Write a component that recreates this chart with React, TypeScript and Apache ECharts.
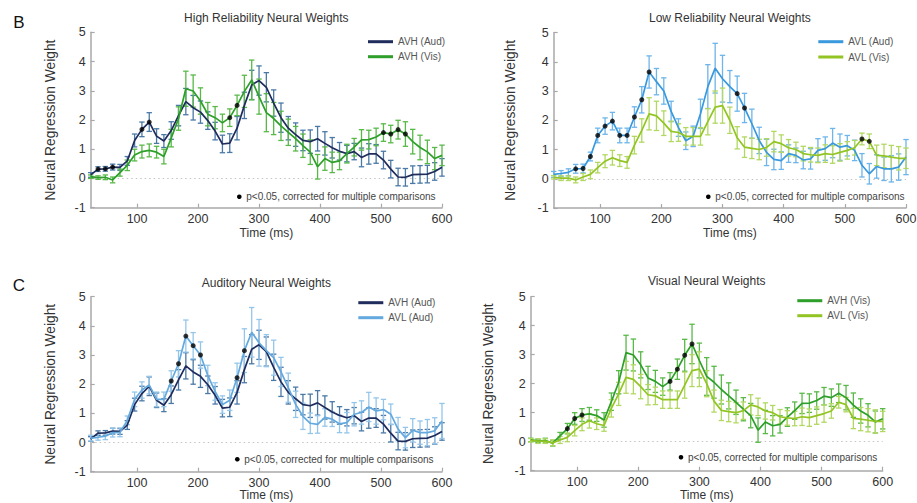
import React, { useEffect, useRef } from "react";
import * as echarts from "echarts";

// ---- data ----
const times = [24, 36, 48, 60, 72, 84, 96, 108, 120, 132, 144, 156, 168, 180, 192, 204, 216, 228, 240, 252, 264, 276, 288, 300, 312, 324, 336, 348, 360, 372, 384, 396, 408, 420, 432, 444, 456, 468, 480, 492, 504, 516, 528, 540, 552, 564, 576, 588, 600];

const xTicks = [100, 200, 300, 400, 500, 600];
const yTicks = [-1, 0, 1, 2, 3, 4, 5];

const avhAudMean = [0.12, 0.32, 0.33, 0.39, 0.38, 0.6, 1.3, 1.68, 1.93, 1.45, 1.28, 1.64, 2.15, 2.63, 2.42, 2.27, 1.98, 1.62, 1.18, 1.21, 1.72, 2.5, 3.2, 3.35, 3.12, 2.58, 2.08, 1.72, 1.5, 1.3, 1.26, 1.36, 1.2, 1.05, 0.93, 0.85, 0.92, 0.72, 0.84, 0.84, 0.63, 0.32, 0.05, 0.04, 0.13, 0.14, 0.15, 0.24, 0.38];
const avhAudErr = [0.08, 0.08, 0.08, 0.1, 0.1, 0.15, 0.22, 0.25, 0.32, 0.25, 0.22, 0.3, 0.35, 0.45, 0.42, 0.38, 0.3, 0.3, 0.3, 0.32, 0.4, 0.45, 0.5, 0.5, 0.5, 0.45, 0.5, 0.4, 0.4, 0.35, 0.4, 0.42, 0.4, 0.35, 0.3, 0.28, 0.28, 0.32, 0.35, 0.32, 0.3, 0.3, 0.3, 0.3, 0.3, 0.3, 0.3, 0.3, 0.3];

const avhVisMean = [0.06, 0.03, 0.04, -0.05, 0.2, 0.45, 0.8, 0.92, 0.96, 0.9, 0.75, 1.38, 2.05, 3.07, 2.99, 2.65, 2.2, 2.08, 1.9, 2.08, 2.5, 2.98, 3.37, 2.8, 2.25, 2.05, 1.8, 1.58, 1.36, 1.12, 0.9, 0.4, 0.68, 0.55, 0.6, 0.85, 1.07, 1.32, 1.33, 1.42, 1.57, 1.52, 1.67, 1.52, 1.26, 1.06, 0.91, 0.68, 0.79];
const avhVisErr = [0.06, 0.06, 0.08, 0.1, 0.12, 0.18, 0.2, 0.22, 0.22, 0.2, 0.25, 0.3, 0.4, 0.6, 0.55, 0.45, 0.4, 0.38, 0.3, 0.3, 0.35, 0.55, 0.68, 0.6, 0.65, 0.55, 0.5, 0.45, 0.42, 0.4, 0.42, 0.42, 0.4, 0.35, 0.3, 0.32, 0.3, 0.35, 0.32, 0.3, 0.3, 0.3, 0.32, 0.42, 0.42, 0.42, 0.4, 0.38, 0.35];

const avlAudMean = [0.15, 0.18, 0.22, 0.34, 0.35, 0.76, 1.48, 1.8, 1.97, 1.48, 1.48, 2.11, 2.7, 3.65, 3.32, 3.0, 2.3, 1.75, 1.3, 1.45, 2.22, 3.15, 3.78, 3.42, 3.15, 2.91, 2.42, 1.88, 1.31, 0.9, 0.66, 0.62, 0.86, 0.8, 0.64, 0.68, 0.97, 1.03, 1.22, 1.08, 1.13, 0.97, 0.46, 0.17, 0.42, 0.34, 0.34, 0.4, 0.74];
const avlAudErr = [0.1, 0.1, 0.12, 0.15, 0.15, 0.15, 0.25, 0.28, 0.3, 0.25, 0.25, 0.35, 0.45, 0.55, 0.45, 0.45, 0.35, 0.3, 0.3, 0.35, 0.5, 0.75, 0.85, 0.8, 0.55, 0.6, 0.5, 0.5, 0.45, 0.45, 0.35, 0.3, 0.3, 0.25, 0.3, 0.35, 0.4, 0.4, 0.5, 0.45, 0.35, 0.35, 0.4, 0.35, 0.4, 0.4, 0.45, 0.45, 0.6];

const avlVisMean = [0.05, 0.02, 0.02, -0.04, 0.06, 0.15, 0.38, 0.6, 0.72, 0.62, 0.56, 1.15, 1.65, 2.22, 2.15, 1.9, 1.62, 1.58, 1.45, 1.45, 1.45, 1.95, 2.45, 2.5, 2.0, 1.4, 1.08, 1.04, 1.0, 1.07, 1.27, 1.2, 1.06, 1.0, 0.86, 0.82, 0.8, 0.86, 0.83, 0.9, 0.97, 1.06, 1.36, 1.28, 0.8, 0.78, 0.74, 0.7, 0.7];
const avlVisErr = [0.06, 0.08, 0.08, 0.1, 0.12, 0.15, 0.18, 0.22, 0.25, 0.2, 0.2, 0.3, 0.4, 0.55, 0.5, 0.42, 0.35, 0.3, 0.3, 0.3, 0.3, 0.45, 0.55, 0.6, 0.45, 0.38, 0.35, 0.35, 0.35, 0.3, 0.35, 0.3, 0.28, 0.25, 0.25, 0.25, 0.25, 0.3, 0.3, 0.3, 0.3, 0.25, 0.2, 0.25, 0.35, 0.4, 0.4, 0.4, 0.35];

// significant time points (p<0.05) per panel
const sigHigh = [36, 48, 60, 108, 120, 252, 264, 504, 516, 528, 540];
const sigLow = [60, 72, 84, 96, 108, 120, 132, 144, 156, 168, 180, 324, 336, 528, 540];
const sigAud = [156, 168, 180, 192, 204, 264, 276];
const sigVis = [84, 96, 108, 252, 264, 276, 288];

const titles = ["High Reliability Neural Weights", "Low Reliability Neural Weights", "Auditory Neural Weights", "Visual Neural Weights"];
const noteText = "p<0.05, corrected for multiple comparisons";
const yName = "Neural Regression Weight";
const xName = "Time (ms)";

const FONT = "'Liberation Sans', Arial, Helvetica, sans-serif";

type S = { name: string; mean: number[]; err: number[]; line: string; bar: string };
type P = {
  title: string;
  left: number; top: number; width: number; height: number;
  series: S[]; sig: number[]; nameGap: number; xNameGap: number;
  titleX: number; titleY: number;
  legX: number; legY: number[];
  noteX: number; noteY: number;
};

const C_AVH_AUD = { line: "#1f2c5c", bar: "#4b79a6" };
const C_AVH_VIS = { line: "#2e9f2a", bar: "#58b947" };
const C_AVL_AUD = { line: "#3a98dc", bar: "#6db5ea" };
const C_AVL_AUD_C = { line: "#64a9de", bar: "#95c6ea" };
const C_AVL_VIS = { line: "#92c524", bar: "#b2d862" };

const panels: P[] = [
  {
    title: titles[0], left: 90.7, top: 32.3, width: 351.3, height: 175.4,
    series: [
      { name: "AVH (Aud)", mean: avhAudMean, err: avhAudErr, ...C_AVH_AUD },
      { name: "AVH (Vis)", mean: avhVisMean, err: avhVisErr, ...C_AVH_VIS },
    ],
    sig: sigHigh, nameGap: 33, xNameGap: 19, titleX: 266.3, titleY: 18.3,
    legX: 368, legY: [41.7, 56.7], noteX: 239.3, noteY: 196.7,
  },
  {
    title: titles[1], left: 553.7, top: 32.5, width: 352.3, height: 175.5,
    series: [
      { name: "AVL (Aud)", mean: avlAudMean, err: avlAudErr, ...C_AVL_AUD },
      { name: "AVL (Vis)", mean: avlVisMean, err: avlVisErr, ...C_AVL_VIS },
    ],
    sig: sigLow, nameGap: 36, xNameGap: 19, titleX: 729.9, titleY: 18.3,
    legX: 818.3, legY: [41.7, 57], noteX: 708.3, noteY: 196.7,
  },
  {
    title: titles[2], left: 90.7, top: 296.7, width: 351.3, height: 175,
    series: [
      { name: "AVH (Aud)", mean: avhAudMean, err: avhAudErr, ...C_AVH_AUD },
      { name: "AVL (Aud)", mean: avlAudMean, err: avlAudErr, ...C_AVL_AUD_C },
    ],
    sig: sigAud, nameGap: 33, xNameGap: 17.5, titleX: 266.3, titleY: 282.7,
    legX: 358.3, legY: [302.7, 317.7], noteX: 237.3, noteY: 459.3,
  },
  {
    title: titles[3], left: 530.7, top: 296.7, width: 352, height: 174,
    series: [
      { name: "AVH (Vis)", mean: avhVisMean, err: avhVisErr, ...C_AVH_VIS },
      { name: "AVL (Vis)", mean: avlVisMean, err: avlVisErr, ...C_AVL_VIS },
    ],
    sig: sigVis, nameGap: 35, xNameGap: 18.5, titleX: 706.7, titleY: 280.7,
    legX: 797.3, legY: [300.7, 315.7], noteX: 681, noteY: 457.3,
  },
];

const letters = [
  { text: "B", x: 19, y: 22 },
  { text: "C", x: 19, y: 285 },
];

const AXIS_GRAY = "#a9a9a9";

function buildOption() {
  const grid: any[] = [];
  const xAxis: any[] = [];
  const yAxis: any[] = [];
  const series: any[] = [];
  const graphic: any[] = [];

  panels.forEach((p, i) => {
    grid.push({ left: p.left, top: p.top, width: p.width, height: p.height, containLabel: false, outerBoundsMode: "none" });
    xAxis.push({
      type: "value", gridIndex: i, min: times[0], max: 600,
      name: xName, nameLocation: "middle", nameGap: p.xNameGap, nameMoveOverlap: false,
      nameTextStyle: { fontSize: 12, lineHeight: 12, color: "#333", fontFamily: FONT },
      axisLine: { show: true, onZero: false, lineStyle: { color: AXIS_GRAY, width: 1.5 } },
      axisTick: { show: true, inside: true, length: 4, customValues: xTicks, lineStyle: { color: AXIS_GRAY, width: 1.2 } },
      axisLabel: { customValues: xTicks, fontSize: 12.5, lineHeight: 12, color: "#333", margin: 5, fontFamily: FONT },
      splitLine: { show: false },
    });
    yAxis.push({
      type: "value", gridIndex: i, min: yTicks[0], max: yTicks[yTicks.length - 1], interval: 1,
      name: yName, nameLocation: "middle", nameGap: p.nameGap,
      nameTextStyle: { fontSize: 13.8, color: "#333", fontFamily: FONT },
      axisLine: { show: true, onZero: false, lineStyle: { color: AXIS_GRAY, width: 1.5 } },
      axisTick: { show: true, inside: true, length: 4, lineStyle: { color: AXIS_GRAY, width: 1.2 } },
      axisLabel: { fontSize: 12.5, color: "#333", margin: 5, fontFamily: FONT },
      splitLine: { show: false },
    });

    // error bars
    p.series.forEach((s) => {
      const color = s.bar;
      series.push({
        type: "custom", name: s.name + " SEM", xAxisIndex: i, yAxisIndex: i, silent: true, z: 2,
        data: times.map((t, k) => [t, s.mean[k] - s.err[k], s.mean[k] + s.err[k]]),
        encode: { x: 0, y: [1, 2] },
        renderItem: (params: any, api: any) => {
          const x = api.value(0);
          const lo = api.coord([x, api.value(1)]);
          const hi = api.coord([x, api.value(2)]);
          const hw = 2.7;
          const style = { stroke: color, lineWidth: 1.3, fill: "none" };
          return {
            type: "group",
            children: [
              { type: "line", shape: { x1: lo[0], y1: lo[1], x2: hi[0], y2: hi[1] }, style },
              { type: "line", shape: { x1: lo[0] - hw, y1: lo[1], x2: lo[0] + hw, y2: lo[1] }, style },
              { type: "line", shape: { x1: hi[0] - hw, y1: hi[1], x2: hi[0] + hw, y2: hi[1] }, style },
            ],
          };
        },
      });
    });
    // mean lines
    p.series.forEach((s, j) => {
      const line: any = {
        type: "line", name: s.name, xAxisIndex: i, yAxisIndex: i, silent: true, z: 3,
        data: times.map((t, k) => [t, s.mean[k]]),
        symbol: "none", showSymbol: false,
        lineStyle: { color: s.line, width: 1.7 }, itemStyle: { color: s.line },
      };
      if (j === 0) {
        line.markLine = {
          silent: true, symbol: ["none", "none"], label: { show: false },
          lineStyle: { type: [1.5, 3], color: "#c4c4c4", width: 1 },
          data: [{ yAxis: 0 }], z: 1,
        };
      }
      series.push(line);
    });
    // significance dots
    series.push({
      type: "scatter", name: "sig" + i, xAxisIndex: i, yAxisIndex: i, silent: true, z: 5,
      symbolSize: 5, itemStyle: { color: "#000" },
      data: p.sig.map((t) => {
        const k = times.indexOf(t);
        return [t, Math.max(...p.series.map((s) => s.mean[k]))];
      }),
    });

    // title
    graphic.push({
      type: "text", x: p.titleX, y: p.titleY,
      style: { text: p.title, fill: "#333", font: `12px ${FONT}`, align: "center", verticalAlign: "middle" },
    });
    // legend
    p.series.forEach((s, j) => {
      graphic.push({ type: "rect", shape: { x: p.legX, y: p.legY[j] - 1.5, width: 25, height: 3 }, style: { fill: s.line } });
      graphic.push({
        type: "text", x: p.legX + 30, y: p.legY[j],
        style: { text: s.name, fill: "#555", font: `10px ${FONT}`, align: "left", verticalAlign: "middle" },
      });
    });
    // note
    graphic.push({ type: "circle", shape: { cx: p.noteX, cy: p.noteY, r: 2.3 }, style: { fill: "#000" } });
    graphic.push({
      type: "text", x: p.noteX + 7, y: p.noteY,
      style: { text: noteText, fill: "#444", font: `10px ${FONT}`, align: "left", verticalAlign: "middle" },
    });
  });

  letters.forEach((l) => {
    graphic.push({
      type: "text", x: l.x, y: l.y,
      style: { text: l.text, fill: "#111", font: `17px ${FONT}`, align: "center", verticalAlign: "middle" },
    });
  });

  return {
    animation: false,
    backgroundColor: "#ffffff",
    textStyle: { fontFamily: FONT },
    grid, xAxis, yAxis, series, graphic,
  };
}

export default function App() {
  const ref = useRef<HTMLDivElement>(null);
  useEffect(() => {
    if (!ref.current) return;
    const chart = echarts.init(ref.current, undefined, { renderer: "svg" });
    chart.setOption(buildOption() as any);
    return () => chart.dispose();
  }, []);
  return <div ref={ref} style={{ position: "fixed", left: 0, top: 0, width: 917, height: 503 }} />;
}
